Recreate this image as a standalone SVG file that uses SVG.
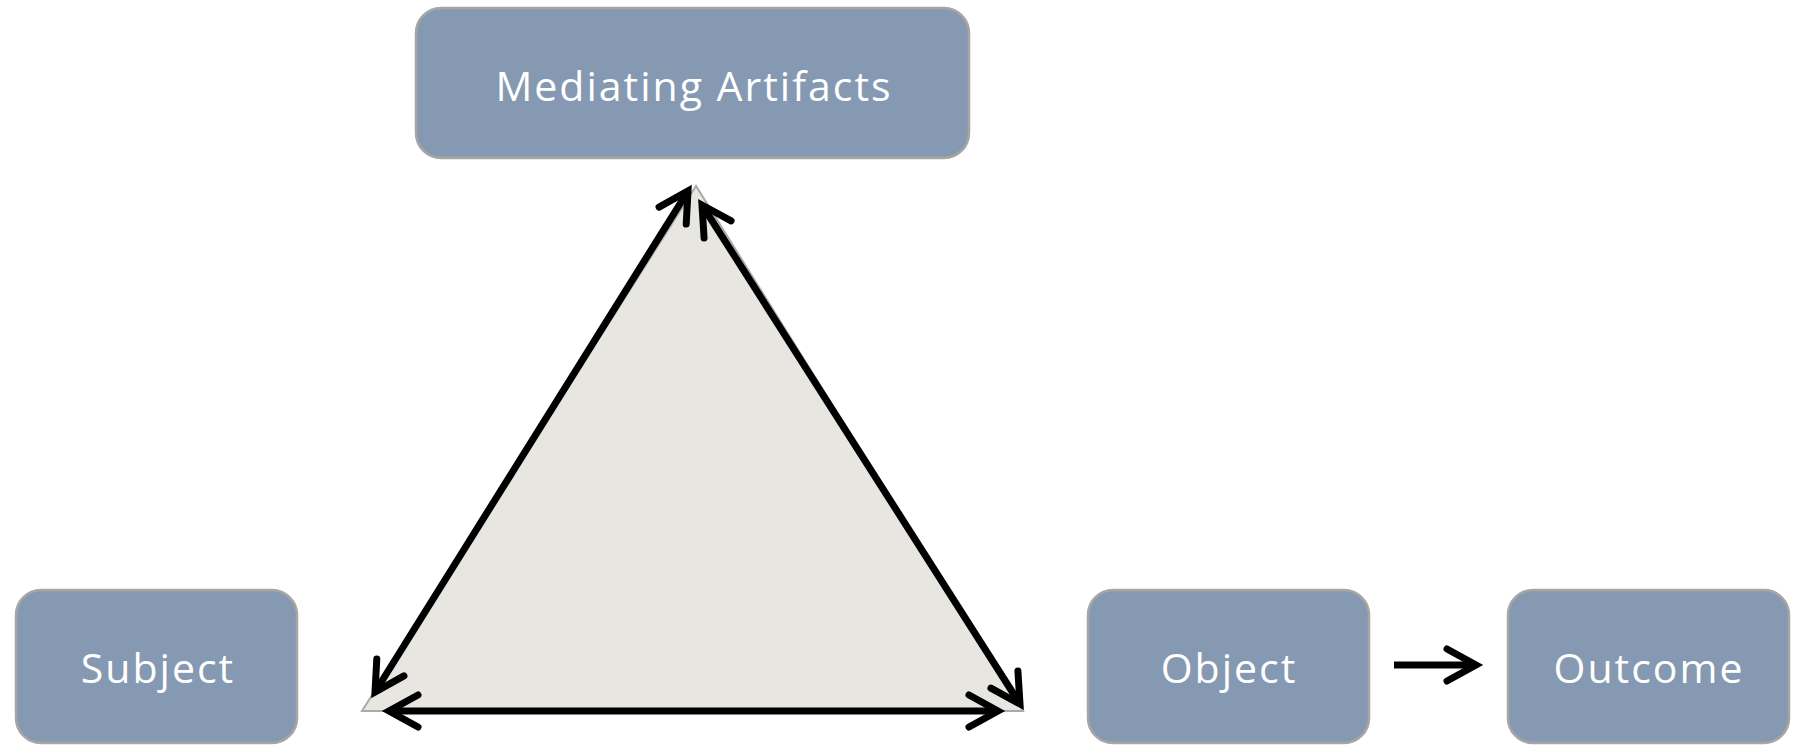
<svg xmlns="http://www.w3.org/2000/svg" width="1811" height="746" viewBox="0 0 1811 746">
<style>
.box{fill:#8599b2;stroke:#a8a6a2;stroke-width:2.5}
.lbl{fill:#ffffff;font-family:"Open Sans",Lato,"Liberation Sans",sans-serif;font-size:41px;letter-spacing:2px;text-anchor:middle}
.con{stroke:#000;stroke-width:7;fill:none}
</style>
<defs>
<marker id="chev" markerUnits="userSpaceOnUse" viewBox="-40 -25 50 50" markerWidth="50" markerHeight="50" refX="0" refY="0" orient="auto-start-reverse" overflow="visible">
<path d="M-29,-16 L0,0 L-29,16" fill="none" stroke="#000" stroke-width="7" stroke-linecap="round" stroke-linejoin="miter"/>
</marker>
</defs>
<rect width="1811" height="746" fill="#ffffff"/>
<g id="triangle">
<polygon points="696,186 362,711 1023,711" fill="#e8e6e0" stroke="#aaaaaa" stroke-width="2"/>
</g>
<g id="mediating">
<rect class="box" x="416" y="8" width="553" height="150" rx="25"/>
<text class="lbl" x="694" y="101">Mediating Artifacts</text>
</g>
<g id="subject">
<rect class="box" x="16" y="590" width="281" height="153" rx="25"/>
<text class="lbl" x="158" y="683">Subject</text>
</g>
<g id="object">
<rect class="box" x="1088" y="590" width="281" height="153" rx="25"/>
<text class="lbl" x="1229" y="683">Object</text>
</g>
<g id="outcome">
<rect class="box" x="1508" y="590" width="281" height="153" rx="25"/>
<text class="lbl" x="1649" y="683">Outcome</text>
</g>
<g id="connectors">
<line class="con" x1="375" y1="692" x2="688" y2="191" marker-start="url(#chev)" marker-end="url(#chev)"/>
<line class="con" x1="702" y1="205" x2="1020" y2="704" marker-start="url(#chev)" marker-end="url(#chev)"/>
<line class="con" x1="389" y1="711" x2="998" y2="711" marker-start="url(#chev)" marker-end="url(#chev)"/>
<line class="con" x1="1394" y1="665" x2="1476" y2="665" marker-end="url(#chev)"/>
</g>
</svg>
